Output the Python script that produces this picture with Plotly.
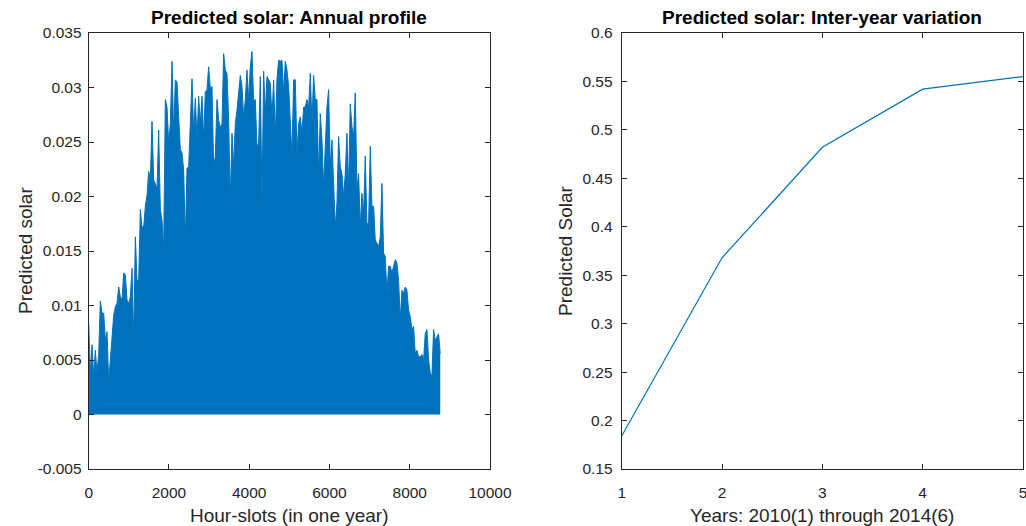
import numpy as np
import plotly.graph_objects as go

# ---------------- Data ----------------
# Annual profile: sampled peak envelope of the hourly predicted solar series (0 .. 8760 h)
annual_peaks = [
    0.0084, 0.0038, 0.0064, 0.0035, 0.0059, 0.0038, 0.0056, 0.0104, 0.0093, 0.0093,
    0.0068, 0.0076, 0.0030, 0.0050, 0.0074, 0.0091, 0.0099, 0.0102, 0.0117, 0.0108,
    0.0105, 0.0130, 0.0128, 0.0105, 0.0102, 0.0108, 0.0134, 0.0068, 0.0163, 0.0123,
    0.0123, 0.0188, 0.0172, 0.0172, 0.0191, 0.0201, 0.0223, 0.0215, 0.0269, 0.0215,
    0.0212, 0.0206, 0.0261, 0.0188, 0.0178, 0.0151, 0.0289, 0.0282, 0.0249, 0.0267,
    0.0324, 0.0258, 0.0307, 0.0305, 0.0273, 0.0243, 0.0240, 0.0224, 0.0160, 0.0226,
    0.0227, 0.0267, 0.0308, 0.0258, 0.0290, 0.0252, 0.0292, 0.0267, 0.0292, 0.0252,
    0.0296, 0.0298, 0.0319, 0.0299, 0.0301, 0.0227, 0.0237, 0.0289, 0.0270, 0.0263,
    0.0267, 0.0331, 0.0316, 0.0313, 0.0270, 0.0197, 0.0258, 0.0227, 0.0267, 0.0279,
    0.0295, 0.0311, 0.0301, 0.0273, 0.0289, 0.0316, 0.0289, 0.0319, 0.0333, 0.0287,
    0.0289, 0.0246, 0.0249, 0.0310, 0.0194, 0.0315, 0.0276, 0.0310, 0.0307,
    0.0304, 0.0273, 0.0307, 0.0255, 0.0307, 0.0325, 0.0324, 0.0325, 0.0295, 0.0324,
    0.0316, 0.0301, 0.0267, 0.0237, 0.0307, 0.0307, 0.0240, 0.0267, 0.0273, 0.0258,
    0.0282, 0.0282, 0.0289, 0.0282, 0.0313, 0.0267, 0.0311, 0.0289, 0.0289, 0.0218,
    0.0276, 0.0252, 0.0209, 0.0240, 0.0282, 0.0298, 0.0227, 0.0252, 0.0209, 0.0172,
    0.0194, 0.0255, 0.0227, 0.0221, 0.0200, 0.0221, 0.0258, 0.0206, 0.0285, 0.0264,
    0.0255, 0.0295, 0.0206, 0.0221, 0.0172, 0.0203, 0.0185, 0.0237, 0.0175, 0.0175,
    0.0246, 0.0191, 0.0191, 0.0160, 0.0157, 0.0154, 0.0163, 0.0212, 0.0148, 0.0145,
    0.0111, 0.0136, 0.0136, 0.0130, 0.0136, 0.0142, 0.0139, 0.0123, 0.0087, 0.0114,
    0.0111, 0.0117, 0.0114, 0.0096, 0.0090, 0.0078, 0.0081, 0.0056, 0.0059, 0.0053,
    0.0053, 0.0055, 0.0050, 0.0074, 0.0078, 0.0050, 0.0038, 0.0035, 0.0078, 0.0068,
    0.0071, 0.0074, 0.0056,
]
hour_slots = np.linspace(0, 8760, len(annual_peaks))

# Inter-year variation
years = [1, 2, 3, 4, 5]
yearly_solar = [0.184, 0.368, 0.482, 0.542, 0.555]

left_xticks = [0, 2000, 4000, 6000, 8000, 10000]
left_xticklabels = ["0", "2000", "4000", "6000", "8000", "10000"]
left_yticks = [-0.005, 0, 0.005, 0.01, 0.015, 0.02, 0.025, 0.03, 0.035]
left_yticklabels = ["-0.005", "0", "0.005", "0.01", "0.015", "0.02", "0.025", "0.03", "0.035"]
right_xticks = [1, 2, 3, 4, 5]
right_yticks = [0.15, 0.2, 0.25, 0.3, 0.35, 0.4, 0.45, 0.5, 0.55, 0.6]
right_yticklabels = ["0.15", "0.2", "0.25", "0.3", "0.35", "0.4", "0.45", "0.5", "0.55", "0.6"]

# ---------------- Figure ----------------
W, H = 1026, 526
BLUE = "#0072BD"
AX = "#262626"
FONT = "Liberation Sans, Arial, sans-serif"


def px(x):
    return x / W


def py(y):
    return 1 - y / H


fig = go.Figure()
fig.add_trace(go.Scatter(
    x=hour_slots, y=annual_peaks, mode="lines",
    line=dict(color=BLUE, width=1), fill="tozeroy", fillcolor=BLUE,
    xaxis="x", yaxis="y", showlegend=False, hoverinfo="skip",
))
fig.add_trace(go.Scatter(
    x=years, y=yearly_solar, mode="lines",
    line=dict(color=BLUE, width=1.2),
    xaxis="x2", yaxis="y2", showlegend=False,
))

L0, L1 = px(88.7), px(490)
R0, R1 = px(621.7), px(1023)
B0, B1 = py(469), py(33)

axis_common = dict(
    showgrid=False, zeroline=False, showline=True, linecolor=AX, linewidth=1,
    mirror="ticks", ticks="inside", ticklen=5, tickcolor=AX, tickwidth=1,
    automargin=False, ticklabeloverflow="allow",
    tickfont=dict(family=FONT, size=15.5, color=AX),
)

fig.update_layout(
    template="none",
    width=W, height=H,
    margin=dict(l=0, r=0, t=0, b=0, pad=0),
    paper_bgcolor="white", plot_bgcolor="white",
    font=dict(family=FONT, color=AX),
    xaxis=dict(domain=[L0, L1], range=[0, 10000], tickvals=left_xticks,
               ticktext=left_xticklabels, anchor="y", ticklabelstandoff=9, **axis_common),
    yaxis=dict(domain=[B0, B1], range=[-0.005, 0.035], tickvals=left_yticks,
               ticktext=left_yticklabels, anchor="x", ticklabelstandoff=3, **axis_common),
    xaxis2=dict(domain=[R0, R1], range=[1, 5], tickvals=right_xticks,
                ticktext=[str(v) for v in right_xticks], anchor="y2", ticklabelstandoff=9, **axis_common),
    yaxis2=dict(domain=[B0, B1], range=[0.15, 0.6], tickvals=right_yticks,
                ticktext=right_yticklabels, anchor="x2", ticklabelstandoff=5, **axis_common),
)

ann = []
# subplot titles
ann.append(dict(text="<b>Predicted solar: Annual profile</b>", x=(L0 + L1) / 2, y=py(18),
                xref="paper", yref="paper", xanchor="center", yanchor="middle", showarrow=False,
                font=dict(family=FONT, size=19, color="black")))
ann.append(dict(text="<b>Predicted solar: Inter-year variation</b>", x=(R0 + R1) / 2, y=py(18),
                xref="paper", yref="paper", xanchor="center", yanchor="middle", showarrow=False,
                font=dict(family=FONT, size=19, color="black")))
# axis titles
ann.append(dict(text="Hour-slots (in one year)", x=(L0 + L1) / 2, y=py(515),
                xref="paper", yref="paper", xanchor="center", yanchor="middle", showarrow=False,
                font=dict(family=FONT, size=19, color=AX)))
ann.append(dict(text="Years: 2010(1) through 2014(6)", x=(R0 + R1) / 2, y=py(515),
                xref="paper", yref="paper", xanchor="center", yanchor="middle", showarrow=False,
                font=dict(family=FONT, size=19, color=AX)))
ann.append(dict(text="Predicted solar", x=px(25), y=(B0 + B1) / 2, textangle=-90,
                xref="paper", yref="paper", xanchor="center", yanchor="middle", showarrow=False,
                font=dict(family=FONT, size=19, color=AX)))
ann.append(dict(text="Predicted Solar", x=px(565), y=(B0 + B1) / 2, textangle=-90,
                xref="paper", yref="paper", xanchor="center", yanchor="middle", showarrow=False,
                font=dict(family=FONT, size=19, color=AX)))
fig.update_layout(annotations=ann)

# remove the browser's default page margin so the figure sits at the window's corner
fig.write_html("out.html", config={"displayModeBar": False},
               post_script="document.body.style.margin='0';")
